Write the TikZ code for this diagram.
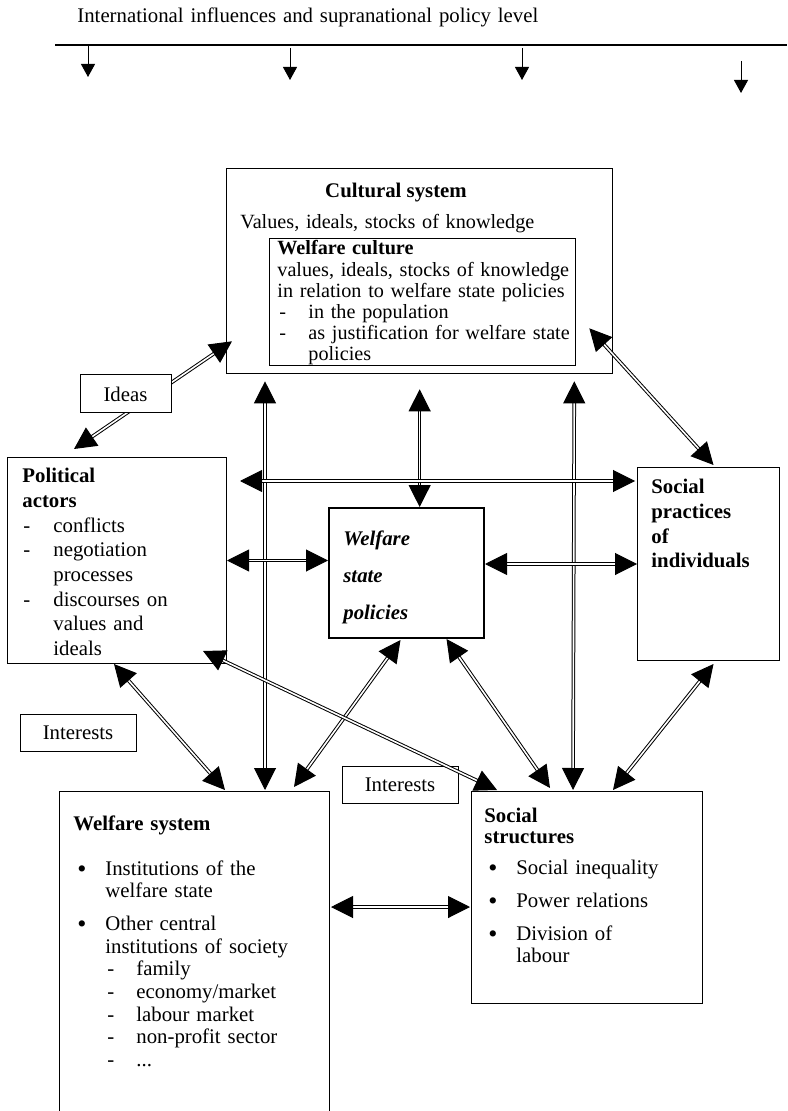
\documentclass[tikz,border=0pt]{standalone}
\usepackage{fontspec}
\setmainfont{Liberation Serif}
\usetikzlibrary{arrows.meta, calc}

\newdimen\px \px=0.5pt
\newcommand{\dsh}[1]{\makebox[#1][l]{-}}
\newcommand{\bul}{\makebox[28\px][l]{\raisebox{-0.25ex}{\scalebox{1.25}{\textbullet}}}}

\begin{document}
\begin{tikzpicture}[
        x=0.5pt, y=-0.5pt,
        font=\fontsize{10.4}{12}\selectfont,
        box/.style={draw, line width=0.5pt, inner sep=0pt, anchor=north west},
        tag_box/.style={draw, fill=white, line width=0.5pt, inner sep=0pt, minimum width=116\px, minimum height=37\px},
        txt/.style={inner sep=0pt, anchor=base west, align=left, text width=#1},
        txt/.default=600\px,
        dbl_arrow/.style={double, line width=0.5pt, double distance=0.8pt, {Triangle[length=11pt,width=11pt]}-{Triangle[length=11pt,width=11pt]}},
        down_arrow/.style={line width=0.5pt, -{Triangle[length=6.5pt,width=7pt]}}
    ]
    \useasboundingbox (0,0) rectangle (787,1111);

    % supranational level
    \node[txt] (intl) at (77,23) {International influences and supranational policy level};
    \coordinate (lvl_l) at (55,45);
    \coordinate (lvl_r) at (787,45);
    \draw[line width=0.65pt] (lvl_l) -- (lvl_r);
    \foreach \xx/\ys/\ye in {88/45/77, 290/48/80, 522/48/80, 741/61/93}
        \draw[down_arrow] (\xx,\ys) -- (\xx,\ye);

    % cultural system
    \node[box, line width=0.65pt, minimum width=386\px, minimum height=205\px] (cult) at (226,168) {};
    \node[inner sep=0pt, anchor=base] (cult_title) at ($(cult.north west)+(170,29.5)$) {\textbf{Cultural system}};
    \node[txt, font=\fontsize{10.1}{12}\selectfont] (cult_txt) at ($(cult.north west)+(14,61)$) {Values, ideals, stocks of knowledge};
    \node[box, minimum width=306\px, minimum height=127\px] (wcult) at (269,238) {};
    \node[txt, font=\fontsize{10.1}{10.55}\selectfont] (wcult_txt) at ($(wcult.north west)+(8,17)$) {\textbf{Welfare culture}\\
        values, ideals, stocks of knowledge\\
        in relation to welfare state policies\\
        \hspace*{2\px}\dsh{29\px}in the population\\
        \hspace*{2\px}\dsh{29\px}as justification for welfare state\\
        \hspace*{31\px}policies};

    % political actors
    \node[box, minimum width=219\px, minimum height=206\px] (polit) at (7,457) {};
    \node[txt, font=\fontsize{10.4}{12.35}\selectfont] (polit_txt) at ($(polit.north west)+(15,25.7)$) {\textbf{Political}\\
        \textbf{actors}\\
        \hspace*{1\px}\dsh{30\px}conflicts\\
        \hspace*{1\px}\dsh{30\px}negotiation\\
        \hspace*{31\px}processes\\
        \hspace*{1\px}\dsh{30\px}discourses on\\
        \hspace*{31\px}values and\\
        \hspace*{31\px}ideals};

    % welfare state policies
    \node[box, line width=1pt, minimum width=155\px, minimum height=130\px] (policy) at (328,507) {};
    \node[txt, font=\fontsize{10.4}{18.5}\selectfont\bfseries\itshape] (policy_txt) at ($(policy.north west)+(15,38)$) {Welfare\\ state\\ policies};

    % social practices
    \node[box, minimum width=142\px, minimum height=193\px] (pract) at (637,467) {};
    \node[txt, font=\fontsize{10.4}{12.3}\selectfont\bfseries] (pract_txt) at ($(pract.north west)+(14,27)$) {Social\\ practices\\ of\\ individuals};

    % welfare system
    \node[box, minimum width=270\px, minimum height=340\px] (wsys) at (59,791) {};
    \node[txt, font=\fontsize{10.4}{11.3}\selectfont] (wsys_txt) at ($(wsys.north west)+(14,39)$) {\textbf{Welfare system}\\[11.2pt]
        \hspace*{4\px}\bul Institutions of the\\
        \hspace*{32\px}welfare state\\[5.2pt]
        \hspace*{4\px}\bul Other central\\
        \hspace*{32\px}institutions of society\\
        \hspace*{34\px}\dsh{29\px}family\\
        \hspace*{34\px}\dsh{29\px}economy/market\\
        \hspace*{34\px}\dsh{29\px}labour market\\
        \hspace*{34\px}\dsh{29\px}non-profit sector\\
        \hspace*{34\px}\dsh{29\px}...};

    % social structures
    \node[box, minimum width=231\px, minimum height=212\px] (sstruct) at (471,791) {};
    \node[txt, font=\fontsize{10.4}{10.2}\selectfont] (sstruct_txt) at ($(sstruct.north west)+(13,31.7)$) {\textbf{Social}\\
        \textbf{structures}\\[5.3pt]
        \hspace*{4\px}\bul Social inequality\\[6.3pt]
        \hspace*{4\px}\bul Power relations\\[6.3pt]
        \hspace*{4\px}\bul Division of\\[1.15pt]
        \hspace*{32\px}labour};

    \node[tag_box] (interests_l) at (78,732.5) {Interests};
    \node[tag_box] (interests_r) at (400,784.5) {Interests};

    % links
    \draw[dbl_arrow] ($(polit.north west)+(67,-8)$) -- ($(cult.south west)+(6,-33)$);
    \draw[dbl_arrow] ($(cult.south west)+(39,7)$) -- ($(wsys.north west)+(206,-1)$);
    \draw[dbl_arrow] ($(cult.south)+(0,15)$) -- (cult.south |- policy.north);
    \draw[dbl_arrow] ($(cult.south east)+(-39,7)$) -- ($(sstruct.north west)+(102,-1)$);
    \draw[dbl_arrow] ($(polit.north east)+(13,24)$) -- ($(pract.north west)+(-2,14)$);
    \draw[dbl_arrow] (polit.east) -- (polit.east -| policy.west);
    \draw[dbl_arrow] (pract.west -| policy.east) -- (pract.west);
    \draw[dbl_arrow] ($(cult.south east)+(-24,-46)$) -- ($(pract.north)+(5,-2)$);
    \draw[dbl_arrow] ($(policy.south)+(-6,1)$) -- ($(wsys.north east)+(-36,-4)$);
    \draw[dbl_arrow] ($(policy.south)+(40,0)$) -- ($(sstruct.north west)+(79,-3)$);
    \draw[dbl_arrow] ($(polit.south)+(-3,0)$) -- ($(wsys.north west)+(166,-1)$);
    \draw[dbl_arrow] ($(polit.south east)+(-24,-13)$) -- ($(sstruct.north west)+(26,-1)$);
    \draw[dbl_arrow] ($(pract.south)+(5,3)$) -- ($(sstruct.north west)+(142,-1)$);
    \draw[dbl_arrow] ($(wsys.north east)+(1,116)$) -- ($(sstruct.north west)+(-1,116)$);

    \node[tag_box, minimum width=91\px, minimum height=38\px] (ideas) at (125.5,394) {Ideas};

\end{tikzpicture}
\end{document}
